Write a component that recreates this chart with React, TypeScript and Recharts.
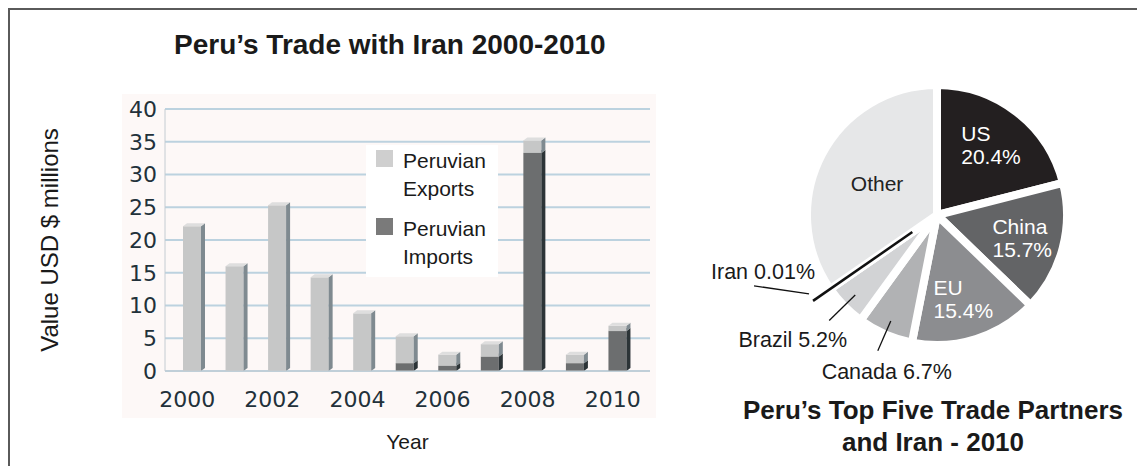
import { BarChart, Bar, XAxis, YAxis, CartesianGrid, Legend, PieChart, Pie, Cell } from 'recharts'

const years = ['2000', '2001', '2002', '2003', '2004', '2005', '2006', '2007', '2008', '2009', '2010']
const peruExports = [22.1, 16.0, 25.3, 14.3, 8.8, 4.1, 1.7, 1.9, 1.9, 1.3, 0.8]
const peruImports = [0, 0, 0, 0, 0, 1.2, 0.8, 2.2, 33.3, 1.2, 6.1]
const yTicks = [0, 5, 10, 15, 20, 25, 30, 35, 40]

const partners = ['US', 'China', 'EU', 'Canada', 'Brazil', 'Iran', 'Other']
// "Other" carries no label, so its share is read off the slice size
const partnerShares = [20.4, 15.7, 15.4, 6.7, 5.2, 0.01, 33.6]
const partnerLabels = ['20.4%', '15.7%', '15.4%', '6.7%', '5.2%', '0.01%', '']

const SLICE_COLORS: Record<string, string> = {
  US: '#231f20',
  China: '#636466',
  EU: '#8c8d90',
  Canada: '#b1b2b4',
  Brazil: '#d2d3d5',
  Iran: '#111111',
  Other: '#e6e7e8',
}

const FONT = '"Liberation Sans", Arial, Helvetica, sans-serif'
const TICK_FONT = '"DejaVu Sans", Verdana, sans-serif'

const barData = years.map((y, i) => ({ year: y, exports: peruExports[i], imports: peruImports[i] }))
const pieData = partners.map((p, i) => ({ name: p, value: partnerShares[i], pct: partnerLabels[i] }))

// fake 3D column: front face, right side and a thin top
function makeBox(front: string, side: string, top: string) {
  return (props: any) => {
    const { x, y, width, height } = props
    if (!height || height <= 0) return <g />
    const d = 4
    const fw = width - d
    return (
      <g>
        <rect x={x} y={y} width={fw} height={height} fill={front} />
        <polygon
          points={`${x + fw},${y} ${x + fw + d},${y - 3} ${x + fw + d},${y + height - 3} ${x + fw},${y + height}`}
          fill={side}
        />
        <polygon points={`${x},${y} ${x + d},${y - 3} ${x + fw + d},${y - 3} ${x + fw},${y}`} fill={top} />
      </g>
    )
  }
}

const ExportBox = makeBox('#c6c7c7', '#7f8a90', '#dedede')
const ImportBox = makeBox('#6c6e6f', '#2c3437', '#8d8f90')

function TradeLegend() {
  const items = [
    { color: '#cfcfcf', lines: ['Peruvian', 'Exports'] },
    { color: '#7a7a7a', lines: ['Peruvian', 'Imports'] },
  ]
  return (
    <div style={{ background: '#fff', width: 132, height: 132, fontFamily: FONT, fontSize: 21, color: '#1a1a1a' }}>
      {items.map((it, i) => (
        <div key={i} style={{ display: 'flex', paddingTop: i === 0 ? 5 : 15, paddingLeft: 10 }}>
          <div style={{ width: 17, height: 17, background: it.color, marginRight: 10, flex: 'none' }} />
          <div style={{ lineHeight: '28px', marginTop: -3 }}>
            {it.lines.map((l) => (
              <div key={l}>{l}</div>
            ))}
          </div>
        </div>
      ))}
    </div>
  )
}

const RAD = Math.PI / 180

function pt(cx: number, cy: number, r: number, angle: number) {
  return { x: cx + r * Math.cos(-angle * RAD), y: cy + r * Math.sin(-angle * RAD) }
}

function renderPieLabel(props: any) {
  const { cx, cy, midAngle, outerRadius, name, payload } = props
  const pct = payload?.pct ?? ''
  const R = outerRadius
  if (name === 'Other') {
    const p = pt(cx, cy, R * 0.52, midAngle)
    return (
      <text x={p.x} y={p.y + 7.5} textAnchor="middle" fill="#222" fontFamily={FONT} fontSize={21}>
        {name}
      </text>
    )
  }
  if (name === 'US' || name === 'China' || name === 'EU') {
    const p = pt(cx, cy, R * 0.68, midAngle)
    return (
      <text x={p.x - 30} y={p.y - 4} textAnchor="start" fill="#fff" fontFamily={FONT} fontSize={21}>
        <tspan x={p.x - 30}>{name}</tspan>
        <tspan x={p.x - 30} dy={23}>{pct}</tspan>
      </text>
    )
  }
  if (name === 'Iran') {
    const a = pt(cx, cy, 30, midAngle)
    const b = pt(cx, cy, R * 1.16, midAngle)
    return (
      <g>
        <line x1={a.x} y1={a.y} x2={b.x} y2={b.y} stroke="#111" strokeWidth={2.5} />
        <line x1={b.x - 4} y1={b.y - 7} x2={b.x - 59} y2={b.y - 15} stroke="#111" strokeWidth={1.3} />
        <text x={b.x + 2} y={b.y - 21.5} textAnchor="end" fontFamily={FONT} fontSize={21.5} fill="#1a1a1a">
          {`${name} ${pct}`}
        </text>
      </g>
    )
  }
  const isBrazil = name === 'Brazil'
  const a = pt(cx, cy, R * (isBrazil ? 0.88 : 0.89), midAngle)
  const b = pt(cx, cy, R * (isBrazil ? 1.16 : 1.14), midAngle)
  return (
    <g>
      <line x1={a.x} y1={a.y} x2={b.x} y2={b.y} stroke="#111" strokeWidth={1.3} />
      <text
        x={isBrazil ? b.x + 18 : b.x + 9}
        y={isBrazil ? b.y + 26.5 : b.y + 28.5}
        textAnchor={isBrazil ? 'end' : 'middle'}
        fontFamily={FONT}
        fontSize={21.5}
        fill="#1a1a1a"
      >
        {`${name} ${pct}`}
      </text>
    </g>
  )
}

export default function App() {
  return (
    <div style={{ position: 'relative', width: 1137, height: 458, background: '#fff', fontFamily: FONT, overflow: 'hidden' }}>
      <div
        style={{
          position: 'absolute',
          left: 0,
          top: 0,
          width: 1137,
          height: 458,
          borderTop: '2px solid #5a5a5a',
          borderLeft: '2px solid #5a5a5a',
          boxSizing: 'border-box',
        }}
      />
      <div style={{ position: 'absolute', left: 114, top: 86, width: 534, height: 324, background: '#fdf8f7' }} />
      <div
        style={{
          position: 'absolute',
          left: 166,
          top: 23,
          fontSize: 28,
          lineHeight: '28px',
          fontWeight: 'bold',
          color: '#1a1a1a',
          whiteSpace: 'nowrap',
        }}
      >
        Peru’s Trade with Iran 2000-2010
      </div>

      <div style={{ position: 'absolute', left: 0, top: 0 }}>
        <BarChart
          width={680}
          height={450}
          data={barData}
          margin={{ top: 101, right: 38, left: 97, bottom: 47 }}
          barSize={22}
        >
          <CartesianGrid vertical={false} stroke="#bcd2df" strokeWidth={1.8} />
          <XAxis
            dataKey="year"
            interval={1}
            padding={{ left: 8, right: 9 }}
            height={40}
            tickLine={false}
            axisLine={{ stroke: '#c4ccd2' }}
            tickMargin={14}
            tick={{ fontFamily: TICK_FONT, fontSize: 22, fill: '#22313a', dx: -7 }}
            label={{ value: 'Year', position: 'bottom', offset: 23, fontFamily: FONT, fontSize: 21, fill: '#1a1a1a' }}
          />
          <YAxis
            width={60}
            domain={[0, 40]}
            ticks={yTicks}
            interval={0}
            tickLine={false}
            axisLine={{ stroke: '#c4ccd2' }}
            tickMargin={2}
            tick={{ fontFamily: TICK_FONT, fontSize: 22, fill: '#22313a' }}
            label={{
              content: ({ viewBox }: any) => {
                const x = viewBox.x - 56
                const y = viewBox.y + viewBox.height / 2
                return (
                  <text
                    x={x}
                    y={y}
                    transform={`rotate(-90 ${x} ${y})`}
                    textAnchor="middle"
                    dominantBaseline="central"
                    fontFamily={FONT}
                    fontSize={24}
                    fill="#1a1a1a"
                  >
                    Value USD $ millions
                  </text>
                )
              },
            }}
          />
          <Legend
            layout="vertical"
            align="center"
            verticalAlign="middle"
            content={() => <TradeLegend />}
            wrapperStyle={{ position: 'absolute', left: 358, top: 137, width: 132, height: 132 }}
          />
          <Bar dataKey="imports" stackId="t" shape={ImportBox} isAnimationActive={false} />
          <Bar dataKey="exports" stackId="t" shape={ExportBox} isAnimationActive={false} />
        </BarChart>
      </div>

      <div style={{ position: 'absolute', left: 672, top: 0 }}>
        <PieChart width={465} height={380}>
          <Pie
            data={pieData}
            dataKey="value"
            nameKey="name"
            cx={252}
            cy={202}
            outerRadius={130}
            startAngle={90}
            endAngle={-270}
            stroke="#fff"
            strokeWidth={8}
            labelLine={false}
            label={renderPieLabel}
            isAnimationActive={false}
          >
            {pieData.map((d) => (
              <Cell key={d.name} fill={SLICE_COLORS[d.name]} />
            ))}
          </Pie>
        </PieChart>
      </div>

      <div
        style={{
          position: 'absolute',
          left: 725,
          top: 386,
          width: 400,
          textAlign: 'center',
          fontSize: 26,
          lineHeight: '32px',
          fontWeight: 'bold',
          color: '#1a1a1a',
        }}
      >
        Peru’s Top Five Trade Partners
        <br />
        and Iran - 2010
      </div>
    </div>
  )
}
